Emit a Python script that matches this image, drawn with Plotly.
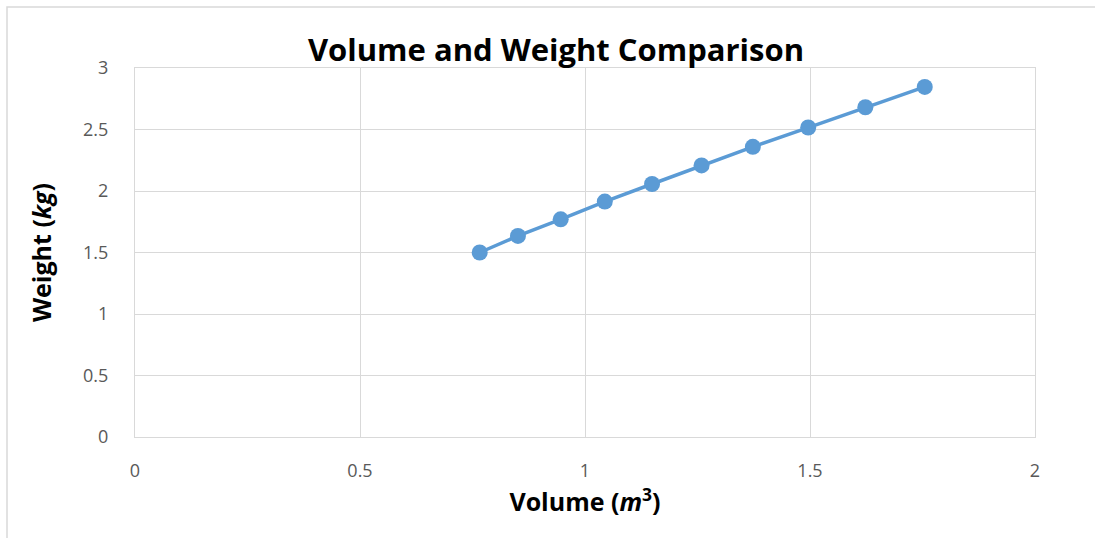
import plotly.graph_objects as go

# Measured volume (m^3) and weight (kg)
volume = [0.766, 0.851, 0.946, 1.044, 1.149, 1.259, 1.373, 1.496, 1.623, 1.755]
weight = [1.50, 1.635, 1.770, 1.914, 2.057, 2.208, 2.359, 2.516, 2.681, 2.846]

x_ticks = [0, 0.5, 1, 1.5, 2]
x_tick_labels = ["0", "0.5", "1", "1.5", "2"]
y_ticks = [0, 0.5, 1, 1.5, 2, 2.5, 3]
y_tick_labels = ["0", "0.5", "1", "1.5", "2", "2.5", "3"]

W, H = 1095, 538
L, R, T, B = 135, 60, 68, 101
plot_w = W - L - R
plot_h = H - T - B

def px_x(p):
    return (p - L) / plot_w

def px_y(p):
    return (H - B - p) / plot_h

grid = "#d9d9d9"
tick_col = "#595959"
font_family = "Open Sans, Noto Sans, sans-serif"

fig = go.Figure()
fig.add_trace(go.Scatter(
    x=volume, y=weight, mode="lines+markers",
    line=dict(color="#5b9bd5", width=3.5),
    marker=dict(color="#5b9bd5", size=16),
    showlegend=False,
))

fig.update_layout(
    width=W, height=H,
    margin=dict(l=L, r=R, t=T, b=B),
    paper_bgcolor="white", plot_bgcolor="white",
    font=dict(family=font_family),
    title=dict(
        text="<b>Volume and Weight Comparison</b>",
        x=px_x(556), xref="paper", xanchor="center",
        y=1 - 50 / H, yref="container", yanchor="middle",
        font=dict(size=31, color="black", family=font_family),
    ),
    xaxis=dict(
        range=[0, 2], tickvals=x_ticks, ticktext=x_tick_labels,
        showgrid=True, gridcolor=grid, gridwidth=1.3,
        showline=True, linecolor=grid, linewidth=1.3, mirror=True,
        zeroline=False, ticks="",
        tickfont=dict(size=18, color=tick_col),
        ticklabelstandoff=17,
        title=dict(text="<b>Volume (<i>m</i><sup>3</sup>)</b>",
                   font=dict(size=25, color="black"), standoff=10),
    ),
    yaxis=dict(
        range=[0, 3], tickvals=y_ticks, ticktext=y_tick_labels,
        showgrid=True, gridcolor=grid, gridwidth=1.3,
        showline=True, linecolor=grid, linewidth=1.3, mirror=True,
        zeroline=False, ticks="",
        tickfont=dict(size=18, color=tick_col),
        ticklabelstandoff=22,
        title=dict(text="<b>Weight (<i>kg</i>)</b>",
                   font=dict(size=25, color="black"), standoff=24),
    ),
    shapes=[
        dict(type="rect", xref="paper", yref="paper",
             x0=px_x(7), x1=px_x(1110), y0=px_y(560), y1=px_y(7),
             line=dict(color=grid, width=1.5), fillcolor="rgba(0,0,0,0)",
             layer="below"),
    ],
)

fig.write_html("out.html")
